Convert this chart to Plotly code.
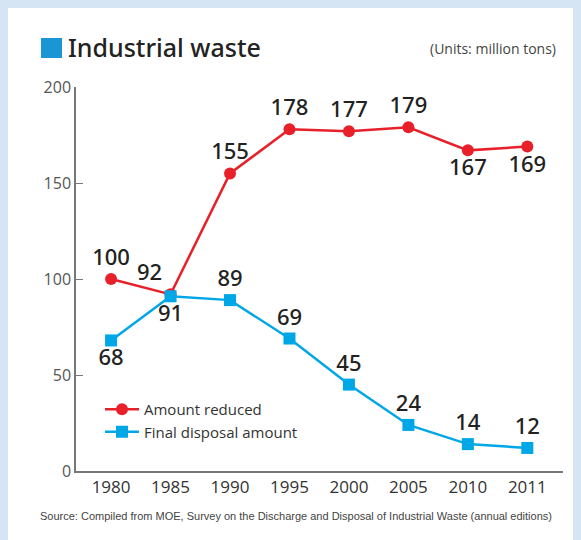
import plotly.graph_objects as go

years = ["1980", "1985", "1990", "1995", "2000", "2005", "2010", "2011"]
reduced = [100, 92, 155, 178, 177, 179, 167, 169]
final_disposal = [68, 91, 89, 69, 45, 24, 14, 12]
reduced_pos = ["top center", "top left", "top center", "top center", "top center", "top center", "bottom center", "bottom center"]
final_pos = ["bottom center", "bottom center", "top center", "top center", "top center", "top center", "top center", "top center"]
y_ticks = [0, 50, 100, 150, 200]

RED = "#e8202a"
BLUE = "#00a7e6"
BG = "#d5e5f4"
FONT = "Open Sans, Noto Sans, sans-serif"
MED = "Noto Sans, Open Sans, sans-serif"

fig = go.Figure()
fig.add_trace(go.Scatter(
    x=years, y=reduced, name="Amount reduced", mode="lines+markers+text",
    line=dict(color=RED, width=2.5), marker=dict(symbol="circle", size=12, color=RED),
    text=[str(v) for v in reduced], textposition=reduced_pos,
    textfont=dict(size=22, color="#222222", family=MED, weight=500), cliponaxis=False,
))
fig.add_trace(go.Scatter(
    x=years, y=final_disposal, name="Final disposal amount", mode="lines+markers+text",
    line=dict(color=BLUE, width=2.5), marker=dict(symbol="square", size=12, color=BLUE),
    text=[str(v) for v in final_disposal], textposition=final_pos,
    textfont=dict(size=22, color="#222222", family=MED, weight=500), cliponaxis=False,
))

# page has an 8px body margin; the figure occupies page x 8..581, y 8..540
OFF = 8
W, H = 581 - OFF, 540 - OFF
L, R, T, B = 76 - OFF, 18, 87 - OFF, 69
pw, ph = W - L - R, H - T - B

def px(x):
    return (x - OFF - L) / pw

def py(y):
    return (H - B - (y - OFF)) / ph

fig.update_layout(
    width=W, height=H,
    margin=dict(l=L, r=R, t=T, b=B),
    paper_bgcolor="white",
    plot_bgcolor="white",
    font=dict(family=FONT, color="#333333"),
    showlegend=True,
    legend=dict(x=px(100), y=py(393), xanchor="left", yanchor="top",
                bgcolor="rgba(0,0,0,0)", font=dict(size=15, color="#333333"),
                tracegroupgap=0, itemwidth=34),
    xaxis=dict(type="category", range=[-0.59, 7.6], showgrid=False, showline=True,
               linecolor="#777777", linewidth=1.5, ticks="", zeroline=False,
               tickfont=dict(size=17, color="#333333")),
    yaxis=dict(range=[0, 200], tickvals=y_ticks, showgrid=False, showline=True,
               linecolor="#777777", linewidth=1.5, ticks="inside", ticklen=7,
               tickcolor="#777777", zeroline=False,
               tickfont=dict(size=16, color="#555555")),
    shapes=[
        dict(type="rect", xref="paper", yref="paper", x0=px(41), x1=px(62), y0=py(58), y1=py(38),
             fillcolor="#1a96d4", line=dict(width=0)),
    ],
    annotations=[
        dict(text="Industrial waste", xref="paper", yref="paper", x=px(66), y=py(47),
             xanchor="left", yanchor="middle", showarrow=False,
             font=dict(size=25, color="#222222", family=MED, weight=500)),
        dict(text="(Units: million tons)", xref="paper", yref="paper", x=px(558), y=py(48),
             xanchor="right", yanchor="middle", showarrow=False,
             font=dict(size=14, color="#444444", family=FONT)),
        dict(text="Source: Compiled from MOE, Survey on the Discharge and Disposal of Industrial Waste (annual editions)",
             xref="paper", yref="paper", x=px(296), y=py(516), xanchor="center", yanchor="middle",
             showarrow=False,
             font=dict(size=11, color="#444444", family="Liberation Sans, Arial, sans-serif")),
    ],
)

fig.write_html("out.html", post_script="document.body.style.backgroundColor='%s';" % BG)
